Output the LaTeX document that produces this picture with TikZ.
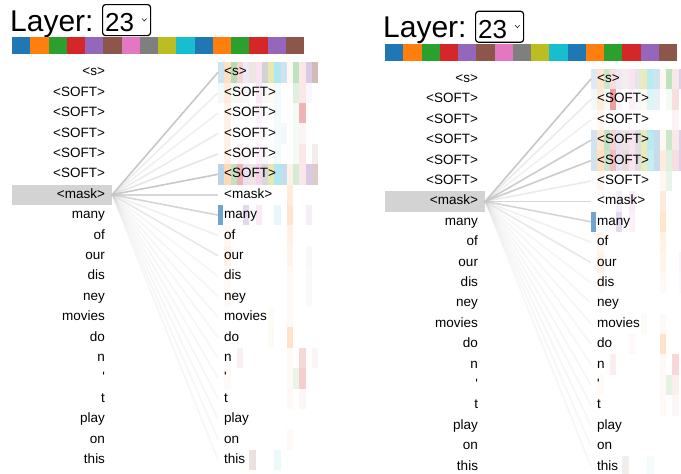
\documentclass[tikz,border=0pt]{standalone}
\usepackage{fontspec}
\setmainfont{Liberation Sans}
\definecolor{h0}{HTML}{1F77B4}
\definecolor{h1}{HTML}{FF7F0E}
\definecolor{h2}{HTML}{2CA02C}
\definecolor{h3}{HTML}{D62728}
\definecolor{h4}{HTML}{9467BD}
\definecolor{h5}{HTML}{8C564B}
\definecolor{h6}{HTML}{E377C2}
\definecolor{h7}{HTML}{7F7F7F}
\definecolor{h8}{HTML}{BCBD22}
\definecolor{h9}{HTML}{17BECF}
\definecolor{h10}{HTML}{1F77B4}
\definecolor{h11}{HTML}{FF7F0E}
\definecolor{h12}{HTML}{2CA02C}
\definecolor{h13}{HTML}{D62728}
\definecolor{h14}{HTML}{9467BD}
\definecolor{h15}{HTML}{8C564B}
\definecolor{maskgray}{HTML}{D3D3D3}
\definecolor{bargblue}{HTML}{6FA5CF}
\newcommand\ltxt[1]{\hbox to 100pt{\hfil#1\kern7pt}}
\tikzset{
  tokfont/.style={font=\fontsize{13.5}{16}\selectfont},
  ltok/.style={tokfont, inner xsep=0pt, inner ysep=0pt, minimum height=20.4pt, text height=10pt, text depth=3pt},
  rtok/.style={tokfont, anchor=west, inner xsep=6pt, inner ysep=0pt, minimum height=20.4pt, text height=10pt, text depth=3pt},
  plain/.style={},
  masked/.style={fill=maskgray},
  conn/.style={draw=black!22, line width=1.6pt},
  titlefont/.style={font=\fontsize{30}{36}\selectfont},
  selbox/.style={draw, rounded corners=3pt, line width=1.2pt, minimum width=48pt, minimum height=31pt, anchor=north west, inner sep=0pt},
}
\newcommand\drawpanel[3]{%
  % title
  \node[titlefont, anchor=base west, inner sep=0pt] (#1title) at (10,31) {Layer:};
  \node[selbox] (#1sel) at (102,4) {};
  \node[font=\fontsize{26}{30}\selectfont, anchor=base west, inner sep=0pt] (#1num) at (105,31.5) {23};
  \draw[line width=0.5pt] (142,18.5) -- (144.3,21) -- (146.6,18.5);
  % colour strip
  \foreach \k in {0,...,15} \fill[h\k] ({12+18.25*\k},37) rectangle ++(18.25,17);
  % heatmap
  \foreach \r/\vals in {#2} {
    \foreach \op [count=\k from 0] in \vals {
      \fill[h\k, fill opacity=\op] ({218+6.25*\k},{72.3+20.4*\r-10.2}) rectangle ++(6.25,20.4);
    }
  }
  \fill[bargblue] (218,{72.3+20.4*7-10}) rectangle (222.5,{72.3+20.4*7+10});
  % tokens
  \foreach \t/\st [count=\i from 0] in {<s>/plain,<SOFT>/plain,<SOFT>/plain,<SOFT>/plain,<SOFT>/plain,<SOFT>/plain,<mask>/masked,many/plain,of/plain,our/plain,dis/plain,ney/plain,movies/plain,do/plain,n/plain,\textquotesingle/plain,t/plain,play/plain,on/plain,this/plain} {
    \node[ltok, \st] (#1l\i) at (62,{72.3+20.4*\i}) {\ltxt{\t}};
    \node[rtok] (#1r\i) at (218,{72.3+20.4*\i}) {\t};
  }
  % connectors
  \foreach \op [count=\i from 0] in {#3} {
    \draw[conn, draw opacity=\op] (#1l6.east) -- (#1r\i.west);
  }
}
\begin{document}
\begin{tikzpicture}[x=1pt,y=-1pt]
\useasboundingbox (0,0) rectangle (681,474);
\fill[white] (0,0) rectangle (681,474);
\begin{scope}
\drawpanel{A}{%
0/{0.2,0.25,0.35,0.2,0.15,0.15,0.2,0.35,0.35,0.35,0.2,0.05,0.3,0.1,0.35,0.4},
1/{0.05,0.15,0.05,0.05,0.05,0,0.15,0.05,0.05,0.05,0,0,0.15,0.1,0.05,0},
2/{0,0.1,0,0,0,0,0.1,0,0,0.05,0,0,0.05,0.35,0,0},
3/{0,0.1,0,0,0,0,0.05,0,0,0.05,0.05,0,0.05,0.05,0,0},
4/{0,0.1,0,0.05,0.05,0,0.1,0.05,0,0.05,0,0,0.05,0.1,0,0.1},
5/{0.3,0.3,0.3,0.35,0.2,0.15,0.3,0.3,0.35,0.35,0.25,0.1,0.2,0.1,0.35,0.3},
6/{0,0,0,0,0,0,0,0,0,0,0,0.15,0,0,0,0},
7/{0,0,0,0,0.25,0,0.15,0,0,0.1,0,0.2,0,0,0.1,0},
8/{0,0.05,0,0,0,0,0,0,0,0,0,0.1,0,0,0,0},
9/{0,0.1,0,0,0,0,0,0,0,0,0,0.08,0,0,0.05,0},
10/{0,0.04,0,0,0,0,0,0,0,0,0,0.04,0,0,0.04,0},
11/{0,0.04,0,0,0,0,0,0,0,0,0,0.04,0,0,0.04,0},
12/{0,0,0,0,0,0,0,0,0.04,0,0,0.04,0,0,0,0},
13/{0,0,0,0,0,0,0,0,0.05,0,0,0.22,0,0,0,0},
14/{0,0,0,0.08,0,0,0,0,0,0,0,0.04,0,0.18,0,0.05},
15/{0,0.04,0,0,0,0,0,0,0,0,0,0.04,0.1,0.22,0,0},
16/{0,0,0,0,0,0,0,0,0,0,0,0.04,0,0.04,0,0},
18/{0,0,0,0,0,0,0,0,0,0,0,0.04,0,0,0,0},
19/{0,0,0,0,0,0.18,0,0,0,0.08,0,0,0,0,0,0}%
}{1,0.3,0.25,0.35,0.45,1,0.7,0.75,0.25,0.4,0.15,0.15,0.15,0.15,0.15,0.15,0.15,0.15,0.15,0.15}
\end{scope}
\begin{scope}[shift={(373,6.7)}]
\drawpanel{B}{%
0/{0.15,0.2,0.25,0.15,0.15,0.1,0.2,0.2,0.3,0.3,0.2,0.05,0.3,0.1,0.3,0.3},
1/{0.05,0.15,0.05,0.45,0.05,0,0.1,0.05,0.05,0.15,0.1,0,0.05,0.15,0,0},
2/{0,0.05,0,0,0,0,0,0,0,0,0,0,0,0.05,0,0},
3/{0.2,0.2,0.3,0.2,0.2,0.15,0.2,0.25,0.3,0.3,0.25,0.05,0.25,0.1,0.3,0.3},
4/{0.2,0.25,0.25,0.3,0.2,0.2,0.2,0.25,0.3,0.25,0.25,0.15,0.15,0.15,0.3,0.3},
5/{0,0.05,0,0,0,0,0,0,0,0,0,0.05,0.1,0,0,0},
6/{0,0,0,0,0.1,0,0.15,0,0,0,0,0.15,0,0,0,0},
7/{0,0,0,0,0.25,0,0.1,0,0,0,0,0.2,0,0,0,0},
8/{0,0.05,0,0,0,0,0,0,0,0,0,0.1,0,0,0,0},
9/{0,0.1,0,0,0,0,0,0,0,0,0,0.08,0,0,0.05,0},
10/{0,0.04,0,0,0,0,0,0,0,0,0,0.04,0,0,0.04,0},
12/{0,0,0,0,0,0,0,0,0.04,0,0,0.04,0,0,0,0},
13/{0,0,0,0,0,0,0.05,0,0,0,0,0.22,0,0,0,0},
14/{0,0,0,0.08,0,0,0,0,0,0,0,0.04,0,0.18,0,0},
15/{0,0.04,0,0,0,0,0,0,0,0,0,0.04,0.12,0.08,0,0},
16/{0,0,0,0,0,0,0,0,0,0,0,0.04,0,0.04,0,0},
19/{0,0,0,0,0,0.1,0,0,0,0.05,0,0,0,0,0,0}%
}{1,0.35,0.25,0.9,0.9,0.35,0.7,0.75,0.25,0.4,0.15,0.15,0.15,0.15,0.15,0.15,0.15,0.15,0.15,0.15}
\end{scope}
\end{tikzpicture}
\end{document}
